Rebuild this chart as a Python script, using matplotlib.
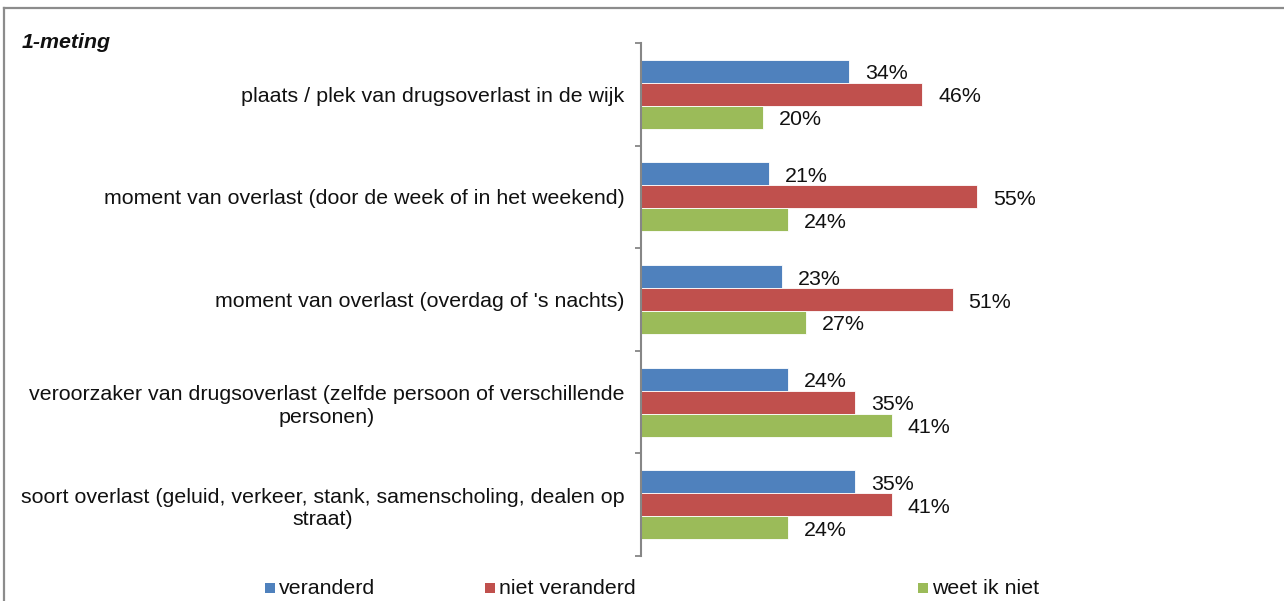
import numpy as np
import matplotlib
matplotlib.use("Agg")
import matplotlib.pyplot as plt
from matplotlib.patches import Rectangle
from matplotlib.lines import Line2D

plt.rcParams['font.family'] = ['Liberation Sans', 'DejaVu Sans']

# data
categories = ["plaats / plek van drugsoverlast in de wijk",
              "moment van overlast (door de week of in het weekend)",
              "moment van overlast (overdag of 's nachts)",
              "veroorzaker van drugsoverlast (zelfde persoon of verschillende\npersonen)",
              "soort overlast (geluid, verkeer, stank, samenscholing, dealen op\nstraat)"]
series_names = ["veranderd", "niet veranderd", "weet ik niet"]
veranderd = [34, 21, 23, 24, 35]
niet_veranderd = [46, 55, 51, 35, 41]
weet_niet = [20, 24, 27, 41, 24]
colors = ["#4F81BD", "#C0504D", "#9BBB59"]
title = "1-meting"

W, H = 1284, 601
fig = plt.figure(figsize=(W/100, H/100), dpi=100)
ax = fig.add_axes([641/W, 1-556/H, (1252-641)/W, (556-43)/H])

y = np.arange(len(categories))
bh = 0.224
fs = 15.4
for k, vals in enumerate([veranderd, niet_veranderd, weet_niet]):
    pos = y + (k-1)*bh
    ax.barh(pos, vals, height=bh, color=colors[k], edgecolor='white', linewidth=0.6)
    for p, v in zip(pos, vals):
        ax.annotate(f"{v}%", (v, p), xytext=(11.5, -1.8), textcoords='offset points',
                    va='center', ha='left', fontsize=fs, color='#111111')

ax.set_xlim(0, 100)
ax.set_ylim(len(categories)-0.5, -0.5)
ax.set_yticks(y)
ax.set_yticklabels(categories, fontsize=fs, multialignment='center', color='#111111',
                   linespacing=1.25)
ax.tick_params(axis='y', which='major', length=0, pad=12)
ax.set_yticks(np.arange(len(categories)+1)-0.5, minor=True)
ax.tick_params(axis='y', which='minor', length=4, width=1.3, color='#868686', direction='out')
ax.set_xticks([])
for s in ['top', 'right', 'bottom']:
    ax.spines[s].set_visible(False)
ax.spines['left'].set_color('#868686')
ax.spines['left'].set_linewidth(1.5)

fig.text(22/W, 1-43/H, title, fontsize=fs, fontweight='bold', fontstyle='italic',
         va='center', ha='left', color='#111111')

# legend
sq_x = [265, 485, 918]
ly = 588
for sx, name, c in zip(sq_x, series_names, colors):
    fig.patches.append(Rectangle((sx/W, 1-(ly+5)/H), 10/W, 10/H, transform=fig.transFigure,
                                 facecolor=c, edgecolor='none'))
    fig.text((sx+14)/W, 1-ly/H, name, fontsize=fs, va='center', ha='left', color='#111111')

# outer frame (top and left edge visible)
fig.add_artist(Line2D([4/W, 1.0], [1-7.5/H, 1-7.5/H], transform=fig.transFigure,
                      color='#8c8c8c', linewidth=1.6))
fig.add_artist(Line2D([4/W, 4/W], [0, 1-7.5/H], transform=fig.transFigure,
                      color='#8c8c8c', linewidth=1.6))

fig.savefig("out.png", dpi=100)
